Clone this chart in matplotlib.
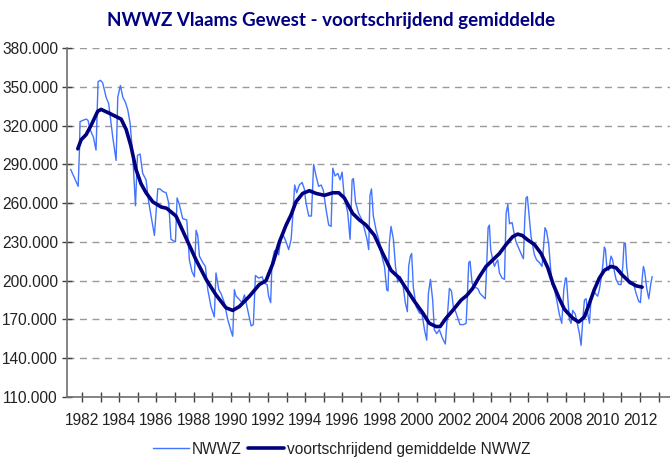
import matplotlib
matplotlib.use("Agg")
import matplotlib.pyplot as plt
from matplotlib.ticker import FuncFormatter, MultipleLocator

# ---- data ----
nwwz_dates = [
    1981.39, 1981.79, 1981.86, 1981.89, 1982.04, 1982.22, 1982.32, 1982.43, 1982.61, 1982.75,
    1982.86, 1982.99, 1983.11, 1983.29, 1983.43, 1983.65, 1983.83, 1983.92, 1984.06, 1984.19,
    1984.33, 1984.46, 1984.58, 1984.72, 1984.87, 1984.98, 1985.12, 1985.26, 1985.44, 1985.58,
    1985.71, 1985.89, 1986.07, 1986.19, 1986.34, 1986.52, 1986.66, 1986.78, 1987.02, 1987.11,
    1987.23, 1987.41, 1987.63, 1987.77, 1987.91, 1988.04, 1988.13, 1988.22, 1988.31, 1988.49,
    1988.63, 1988.76, 1988.93, 1989.11, 1989.20, 1989.35, 1989.47, 1989.65, 1989.83, 1990.01,
    1990.10, 1990.19, 1990.28, 1990.42, 1990.60, 1990.73, 1990.91, 1991.09, 1991.21, 1991.32,
    1991.50, 1991.68, 1991.80, 1991.95, 1992.03, 1992.14, 1992.21, 1992.34, 1992.47, 1992.57,
    1992.70, 1992.82, 1992.97, 1993.11, 1993.24, 1993.33, 1993.43, 1993.54, 1993.68, 1993.83,
    1993.95, 1994.04, 1994.19, 1994.33, 1994.45, 1994.58, 1994.72, 1994.85, 1994.97, 1995.12,
    1995.26, 1995.39, 1995.48, 1995.60, 1995.75, 1995.87, 1995.98, 1996.10, 1996.28, 1996.41,
    1996.52, 1996.59, 1996.70, 1996.87, 1997.05, 1997.20, 1997.32, 1997.41, 1997.48, 1997.56,
    1997.66, 1997.81, 1997.95, 1998.08, 1998.26, 1998.38, 1998.45, 1998.52, 1998.61, 1998.74,
    1998.85, 1998.97, 1999.10, 1999.24, 1999.38, 1999.49, 1999.56, 1999.65, 1999.72, 1999.81,
    1999.96, 2000.14, 2000.28, 2000.41, 2000.53, 2000.62, 2000.73, 2000.85, 2000.94, 2001.07,
    2001.21, 2001.36, 2001.53, 2001.64, 2001.75, 2001.86, 2001.96, 2002.11, 2002.32, 2002.50,
    2002.65, 2002.70, 2002.79, 2002.86, 2002.97, 2003.09, 2003.27, 2003.40, 2003.54, 2003.68,
    2003.76, 2003.83, 2003.90, 2003.97, 2004.08, 2004.17, 2004.26, 2004.35, 2004.44, 2004.58,
    2004.71, 2004.80, 2004.89, 2004.98, 2005.12, 2005.21, 2005.33, 2005.51, 2005.66, 2005.73,
    2005.80, 2005.87, 2005.94, 2006.05, 2006.14, 2006.32, 2006.44, 2006.59, 2006.73, 2006.80,
    2006.89, 2006.98, 2007.09, 2007.18, 2007.27, 2007.40, 2007.52, 2007.66, 2007.79, 2007.90,
    2007.99, 2008.04, 2008.11, 2008.20, 2008.29, 2008.38, 2008.52, 2008.65, 2008.74, 2008.83,
    2008.92, 2009.01, 2009.10, 2009.19, 2009.28, 2009.36, 2009.49, 2009.60, 2009.72, 2009.81,
    2009.90, 2009.99, 2010.08, 2010.14, 2010.21, 2010.31, 2010.44, 2010.53, 2010.62, 2010.71,
    2010.85, 2010.98, 2011.07, 2011.14, 2011.21, 2011.28, 2011.39, 2011.52, 2011.61, 2011.70,
    2011.79, 2011.93, 2012.02, 2012.11, 2012.18, 2012.25, 2012.36, 2012.47, 2012.57, 2012.65,
]
nwwz_values = [
    286, 273, 301, 323, 324, 325, 324, 317, 311, 301,
    354, 355, 353, 342, 337, 311, 293, 342, 351, 342,
    338, 332, 322, 298, 258, 297, 298, 283, 278, 261,
    250, 235, 271, 271, 269, 268, 260, 232, 230, 264,
    259, 248, 247, 216, 207, 203, 239, 235, 219, 214,
    211, 193, 180, 172, 206, 193, 190, 183, 170, 161,
    157, 193, 188, 186, 183, 189, 177, 165, 166, 204,
    202, 203, 198, 197, 188, 183, 214, 223, 224, 220,
    234, 235, 230, 224, 232, 250, 274, 268, 274, 276,
    271, 260, 250, 250, 290, 281, 273, 274, 270, 255,
    243, 242, 287, 281, 283, 278, 284, 264, 253, 232,
    278, 279, 261, 252, 247, 239, 232, 224, 266, 271,
    250, 239, 232, 221, 211, 193, 192, 229, 242, 232,
    211, 199, 203, 198, 183, 176, 211, 219, 221, 195,
    180, 175, 174, 162, 154, 190, 201, 185, 162, 159,
    162, 156, 151, 172, 194, 192, 180, 175, 166, 166,
    167, 183, 214, 215, 198, 195, 194, 190, 188, 186,
    214, 241, 243, 224, 216, 211, 214, 216, 206, 202,
    201, 252, 259, 244, 245, 238, 230, 224, 219, 217,
    247, 264, 265, 248, 234, 220, 216, 214, 211, 224,
    241, 238, 228, 211, 197, 193, 185, 174, 167, 193,
    202, 202, 188, 170, 167, 177, 174, 165, 159, 150,
    170, 185, 186, 174, 167, 185, 193, 190, 188, 193,
    201, 211, 226, 224, 211, 208, 219, 216, 207, 201,
    197, 197, 211, 229, 229, 211, 198, 197, 198, 195,
    190, 184, 183, 201, 211, 207, 194, 186, 197, 203,
]

ma_dates = [
    1981.77, 1981.95, 1982.22, 1982.48, 1982.84, 1983.02, 1983.47, 1984.10, 1984.37, 1984.63,
    1984.90, 1985.17, 1985.44, 1985.80, 1986.25, 1986.55, 1987.05, 1987.59, 1988.13, 1988.67,
    1989.20, 1989.74, 1990.10, 1990.46, 1991.00, 1991.53, 1991.89, 1992.25, 1992.61, 1992.97,
    1993.24, 1993.50, 1993.86, 1994.22, 1994.58, 1995.03, 1995.48, 1995.80, 1996.10, 1996.55,
    1996.91, 1997.27, 1997.72, 1998.17, 1998.61, 1999.06, 1999.42, 1999.87, 2000.32, 2000.67,
    2001.03, 2001.25, 2001.57, 2001.93, 2002.38, 2002.68, 2003.00, 2003.36, 2003.72, 2004.08,
    2004.44, 2004.80, 2005.15, 2005.42, 2005.66, 2005.96, 2006.32, 2006.68, 2007.04, 2007.31,
    2007.66, 2007.93, 2008.08, 2008.38, 2008.70, 2009.01, 2009.28, 2009.54, 2009.81, 2010.08,
    2010.44, 2010.71, 2011.07, 2011.43, 2011.79, 2012.11,
]
ma_values = [
    302, 309, 313, 320, 331, 332.5, 329.5, 325, 317, 304,
    286, 275, 268, 261, 257, 256, 250, 233, 216, 201,
    189, 179, 177, 180, 188, 197, 200, 213, 230, 243,
    251, 261, 267.5, 269.6, 267.5, 266, 268, 268, 264, 252,
    247, 243, 235, 221, 208, 202, 194, 184, 175, 167,
    164.5, 164.5, 171, 177, 185, 188.5, 194, 203, 211, 216,
    221, 228, 234, 236, 235, 231.5, 228, 221, 210, 198,
    186, 178, 175.5, 171, 168, 172, 182.5, 193, 202, 208,
    211, 210, 204, 199, 196, 195,
]

title = "NWWZ Vlaams Gewest - voortschrijdend gemiddelde"
label_nwwz = "NWWZ"
label_ma = "voortschrijdend gemiddelde NWWZ"
year_labels = list(range(1982, 2013, 2))
y_ticks = list(range(110, 381, 30))

# ---- figure ----
tick_font = ["Liberation Sans Narrow", "Liberation Sans", "DejaVu Sans"]
fig = plt.figure(figsize=(6.7, 4.62), dpi=100)
ax = fig.add_axes([0.1, 0.1407, 0.9, 0.7554])

ax.plot(nwwz_dates, [v * 1000 for v in nwwz_values], color="#4274FF", lw=1.0,
        label=label_nwwz, zorder=3)
ax.plot(ma_dates, [v * 1000 for v in ma_values], color="#000080", lw=2.6,
        label=label_ma, zorder=4, solid_joinstyle="round", solid_capstyle="round")

ax.set_xlim(1981.19, 2013.61)
ax.set_ylim(110000, 380000)
ax.set_yticks([v * 1000 for v in y_ticks])
ax.yaxis.set_major_formatter(FuncFormatter(lambda v, p: f"{int(round(v)):,}".replace(",", ".")))
ax.set_xticks(year_labels)
ax.set_xticklabels([str(y) for y in year_labels])
ax.xaxis.set_minor_locator(MultipleLocator(1))

for s in ["top", "right"]:
    ax.spines[s].set_visible(False)
for s in ["left", "bottom"]:
    ax.spines[s].set_color("#707070")
    ax.spines[s].set_linewidth(1.2)

ax.grid(axis="y", color="#9a9a9a", linestyle=(0, (5, 4)), linewidth=1.0)
ax.set_axisbelow(True)
ax.tick_params(axis="both", which="both", direction="inout", color="#404040", width=1.0)
ax.tick_params(axis="both", which="major", length=7)
ax.tick_params(axis="x", which="minor", length=7)
ax.tick_params(axis="x", pad=8)
ax.tick_params(axis="y", pad=3)
for lab in ax.get_xticklabels() + ax.get_yticklabels():
    lab.set_fontfamily(tick_font)
    lab.set_fontsize(11.2)
    lab.set_color("#222222")

fig.text(0.494, 0.955, title, ha="center", va="center", fontsize=13.5, fontweight="bold",
         color="#000080", family=["Lato", "DejaVu Sans"])

leg = fig.legend(loc="center", bbox_to_anchor=(0.51, 0.028), ncol=2, frameon=False,
                 prop={"family": tick_font, "size": 11.2}, handlelength=2.3,
                 columnspacing=0.4, handletextpad=0.2)
for t in leg.get_texts():
    t.set_color("#222222")

fig.savefig("out.png", dpi=100)
